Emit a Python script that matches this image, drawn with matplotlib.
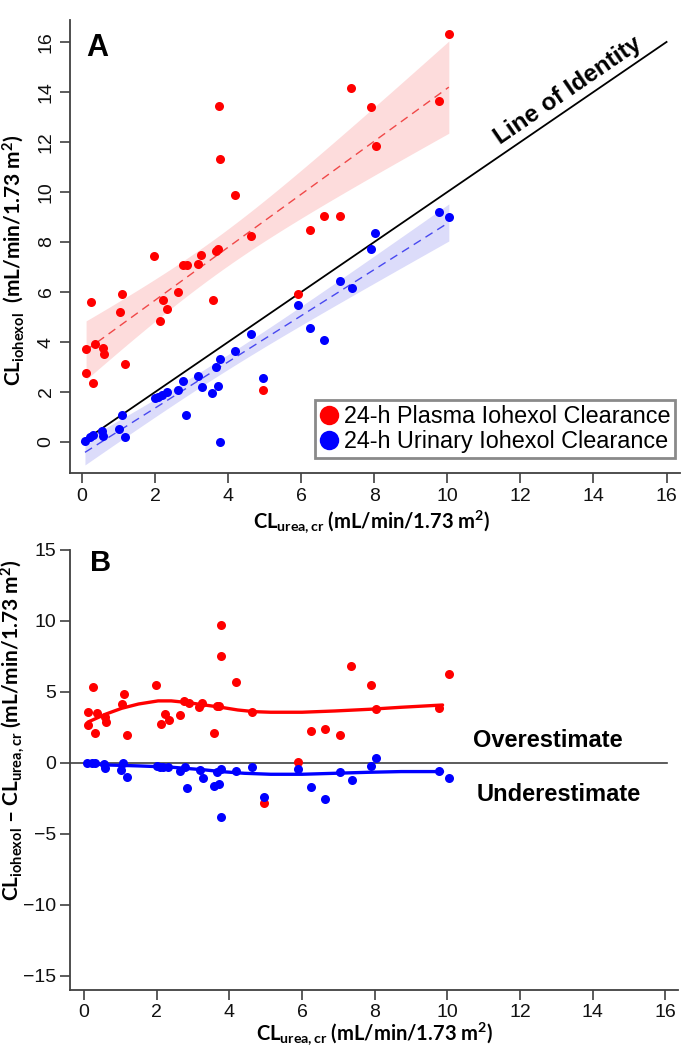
import numpy as np
import matplotlib
matplotlib.use("Agg")
import matplotlib.pyplot as plt
from matplotlib.lines import Line2D

# ---------------- data ----------------
# Panel A: plasma iohexol clearance vs urea/creatinine clearance
urea_cr_plasma = [0.11, 0.11, 0.24, 0.29, 0.36, 0.57, 0.60, 1.04, 1.09, 1.18,
                  1.98, 2.13, 2.22, 2.33, 2.63, 2.75, 2.88, 3.17, 3.26, 3.58,
                  3.67, 3.72, 3.76, 3.77, 4.18, 4.63, 4.95, 5.90, 6.24, 6.63,
                  7.06, 7.36, 7.90, 8.04, 9.77, 10.04]
plasma_iohexol = [3.73, 2.75, 5.61, 2.37, 3.91, 3.77, 3.51, 5.20, 5.93, 3.13,
                  7.44, 4.84, 5.67, 5.33, 6.01, 7.08, 7.08, 7.11, 7.48, 5.68,
                  7.65, 7.71, 13.45, 11.33, 9.88, 8.24, 2.10, 5.93, 8.48, 9.02,
                  9.04, 14.17, 13.39, 11.84, 13.65, 16.30]

# Panel A: urinary iohexol clearance vs urea/creatinine clearance
urea_cr_urine = [0.08, 0.22, 0.31, 0.54, 0.58, 1.02, 1.08, 1.18, 2.00, 2.09,
                 2.18, 2.32, 2.63, 2.77, 2.84, 3.18, 3.27, 3.57, 3.67, 3.71,
                 3.77, 3.77, 4.18, 4.62, 4.95, 5.90, 6.24, 6.63, 7.06, 7.38,
                 7.90, 8.03, 9.76, 10.04]
urinary_iohexol = [0.05, 0.21, 0.28, 0.45, 0.25, 0.51, 1.08, 0.21, 1.75, 1.81,
                   1.88, 2.01, 2.08, 2.45, 1.08, 2.65, 2.21, 1.95, 3.01, 2.25,
                   3.32, -0.01, 3.63, 4.33, 2.58, 5.46, 4.55, 4.08, 6.44, 6.15,
                   7.71, 8.37, 9.19, 8.99]

# Panel B: smoothed (lowess-type) curves
smooth_x_plasma = [0.11, 0.59, 1.04, 1.50, 2.04, 2.40, 2.86, 3.32, 3.77, 4.23,
                   4.69, 5.14, 6.00, 6.91, 7.87, 8.73, 9.87]
smooth_y_plasma = [2.88, 3.43, 3.85, 4.15, 4.37, 4.37, 4.25, 4.08, 3.92, 3.73,
                   3.61, 3.57, 3.57, 3.66, 3.78, 3.92, 4.08]
smooth_x_urine = [0.06, 0.58, 1.50, 2.40, 3.32, 3.77, 4.41, 5.14, 6.00, 6.91,
                  7.82, 8.73, 9.87]
smooth_y_urine = [-0.02, -0.14, -0.21, -0.30, -0.49, -0.61, -0.73, -0.80, -0.80,
                  -0.73, -0.66, -0.61, -0.61]

identity_range = [0, 16]
x_ticks = [0, 2, 4, 6, 8, 10, 12, 14, 16]
yA_ticks = [0, 2, 4, 6, 8, 10, 12, 14, 16]
yB_ticks = [-15, -10, -5, 0, 5, 10, 15]

legend_labels = ["24-h Plasma Iohexol Clearance", "24-h Urinary Iohexol Clearance"]

# ---------------- style ----------------
plt.rcParams["font.family"] = ["Liberation Sans", "DejaVu Sans"]
plt.rcParams["mathtext.fontset"] = "custom"
plt.rcParams["mathtext.rm"] = "Lato:bold"
plt.rcParams["mathtext.it"] = "Lato:bold"
plt.rcParams["mathtext.bf"] = "Lato:bold"

RED = "#ff0000"
BLUE = "#0000ff"
AXC = "#404040"
NARROW = ["Liberation Sans Narrow", "Liberation Sans"]


def ols_band(x, y, npts=100, t=2.03):
    x = np.asarray(x, float)
    y = np.asarray(y, float)
    n = len(x)
    b, a = np.polyfit(x, y, 1)
    xs = np.linspace(x.min(), x.max(), npts)
    yhat = a + b * xs
    resid = y - (a + b * x)
    s = np.sqrt(np.sum(resid ** 2) / (n - 2))
    sxx = np.sum((x - x.mean()) ** 2)
    half = t * s * np.sqrt(1.0 / n + (xs - x.mean()) ** 2 / sxx)
    return xs, yhat, yhat - half, yhat + half


def style_axes(ax):
    for side in ("top", "right"):
        ax.spines[side].set_visible(False)
    for side in ("left", "bottom"):
        ax.spines[side].set_color(AXC)
        ax.spines[side].set_linewidth(1.3)
    ax.tick_params(direction="out", length=7, width=1.2, color=AXC,
                   labelcolor="#111111")


fig = plt.figure(figsize=(7, 10.5), dpi=100)

# ---------------- Panel A ----------------
axA = fig.add_axes([0.1, 0.5495, 0.871, 0.4315])
style_axes(axA)

xs, yh, lo, hi = ols_band(urea_cr_plasma, plasma_iohexol)
axA.fill_between(xs, lo, hi, color="#fddcdc", lw=0, zorder=1)
axA.plot(xs, yh, color="#f04848", lw=1.0, dashes=(6, 4), zorder=3)

xs, yh, lo, hi = ols_band(urea_cr_urine, urinary_iohexol)
axA.fill_between(xs, lo, hi, color="#dcdcfa", lw=0, zorder=1)
axA.plot(xs, yh, color="#4848f0", lw=1.0, dashes=(6, 4), zorder=3)

axA.plot(identity_range, identity_range, color="black", lw=1.3, zorder=2)

axA.plot(urea_cr_plasma, plasma_iohexol, "o", color=RED, ms=6.5, mew=0, zorder=4)
axA.plot(urea_cr_urine, urinary_iohexol, "o", color=BLUE, ms=6.5, mew=0, zorder=4)

axA.set_xlim(-0.33, 16.36)
axA.set_ylim(-1.24, 16.88)
axA.set_xticks(x_ticks)
axA.set_yticks(yA_ticks)
axA.tick_params(labelsize=14, pad=4)
for lbl in axA.get_yticklabels():
    lbl.set_rotation(90)
    lbl.set_va("center")

axA.set_xlabel(r"CL$_{\mathrm{urea,cr}}$ (mL/min/1.73 m$^{\mathrm{2}}$)",
               fontsize=14.5, fontweight="bold", family="Lato", va="center")
axA.xaxis.set_label_coords(0.495, -0.108)
axA.set_ylabel(r"CL$_{\mathrm{iohexol}}$  (mL/min/1.73 m$^{\mathrm{2}}$)",
               fontsize=15, fontweight="bold", family="Lato", va="center")
axA.yaxis.set_label_coords(-0.093, 0.47)

axA.text(0.044, 0.938, "A", transform=axA.transAxes, fontsize=22,
         fontweight="bold", ha="center", va="center")
axA.text(13.3, 14.05, "Line of Identity", rotation=45,
         transform_rotates_text=True, rotation_mode="anchor",
         ha="center", va="center", fontsize=17.5, fontweight="bold")

handles = [Line2D([], [], ls="none", marker="o", color=RED, ms=14, mew=0),
           Line2D([], [], ls="none", marker="o", color=BLUE, ms=14, mew=0)]
leg = axA.legend(handles, legend_labels, loc="lower right",
                 bbox_to_anchor=(0.993, 0.033), borderaxespad=0,
                 fontsize=16.8, frameon=True, fancybox=False, framealpha=1,
                 edgecolor="#8a8a8a", handlelength=0.8, handletextpad=0.25,
                 borderpad=0.2, labelspacing=0.1)
leg.get_frame().set_linewidth(2.0)

# ---------------- Panel B ----------------
axB = fig.add_axes([0.1, 0.0571, 0.869, 0.4191])
style_axes(axB)

plasma_diff = np.asarray(plasma_iohexol) - np.asarray(urea_cr_plasma)
urine_diff = np.asarray(urinary_iohexol) - np.asarray(urea_cr_urine)

axB.axhline(0, xmin=0, xmax=0.982, color=AXC, lw=1.2, zorder=1)
axB.plot(smooth_x_plasma, smooth_y_plasma, color=RED, lw=2.4, zorder=2,
         solid_capstyle="round")
axB.plot(smooth_x_urine, smooth_y_urine, color=BLUE, lw=2.4, zorder=2,
         solid_capstyle="round")
axB.plot(urea_cr_plasma, plasma_diff, "o", color=RED, ms=6.5, mew=0, zorder=3)
axB.plot(urea_cr_urine, urine_diff, "o", color=BLUE, ms=6.5, mew=0, zorder=3)

axB.set_xlim(-0.386, 16.36)
axB.set_ylim(-16, 15)
axB.set_xticks(x_ticks)
axB.set_yticks(yB_ticks)
axB.tick_params(labelsize=14, pad=3)
for lbl in axB.get_xticklabels() + axB.get_yticklabels():
    lbl.set_family(NARROW)

axB.set_xlabel(r"CL$_{\mathrm{urea,cr}}$ (mL/min/1.73 m$^{\mathrm{2}}$)",
               fontsize=14.5, fontweight="bold", family="Lato", va="center")
axB.xaxis.set_label_coords(0.5, -0.1)
axB.set_ylabel(r"CL$_{\mathrm{iohexol}}$ – CL$_{\mathrm{urea,cr}}$ (mL/min/1.73 m$^{\mathrm{2}}$)",
               fontsize=15, fontweight="bold", family="Lato", va="center")
axB.yaxis.set_label_coords(-0.093, 0.59)

axB.text(0.051, 0.97, "B", transform=axB.transAxes, fontsize=21,
         fontweight="bold", ha="center", va="center")
axB.text(12.78, 1.55, "Overestimate", fontsize=17, fontweight="bold",
         ha="center", va="center")
axB.text(13.06, -2.25, "Underestimate", fontsize=17, fontweight="bold",
         ha="center", va="center")

fig.savefig("out.png", dpi=100, facecolor="white")
